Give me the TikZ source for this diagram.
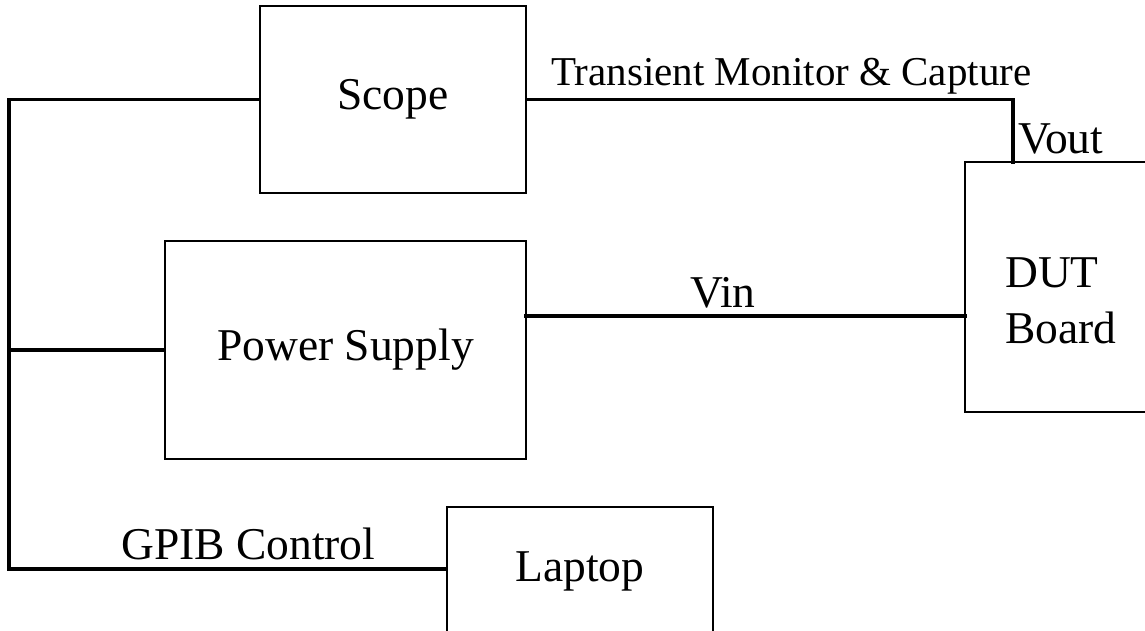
\documentclass[tikz,border=0pt]{standalone}
\usepackage{fontspec}
\setmainfont{Liberation Serif}
\begin{document}
\begin{tikzpicture}[x=1pt,y=-1pt,
  blk/.style={draw=black,line width=2pt,rectangle,inner sep=0pt,fill=none},
  wire/.style={draw=black,line width=3.2pt,line cap=rect},
  big/.style={inner sep=0pt,font=\fontsize{45.5}{56}\selectfont},
  small/.style={inner sep=0pt,font=\fontsize{41}{50}\selectfont}]
\useasboundingbox (0,0) rectangle (1145,630);
\fill[white] (0,0) rectangle (1145,630);
\begin{scope}
\clip (0,0) rectangle (1145,630);
% boxes
\node[blk,minimum width=266pt,minimum height=187pt,big] (scope) at (393,99.5) {Scope};
\node[blk,minimum width=361pt,minimum height=218pt,big] (ps) at (345.5,350) {Power Supply};
\node[blk,minimum width=215pt,minimum height=250pt] (dut) at (1072.5,287) {};
\node[blk,minimum width=266pt,minimum height=129pt,big] (laptop) at (580,571.5) {Laptop};
% labels
\node[big,anchor=base west] (dutlbl) at (1005,287) {DUT};
\node[big,anchor=base west] (boardlbl) at (1005,343) {Board};
\node[small,anchor=base west] (tmc) at (551,85) {Transient Monitor \& Capture};
\node[big,anchor=base west] (vout) at (1018,153) {Vout};
\node[big,anchor=base west] (vin) at (690,307) {Vin};
\node[big,anchor=base west] (gpib) at (121,559) {GPIB Control};
% coordinates
\coordinate (bustop) at (9,99.5);
\coordinate (busbot) at (9,569);
\coordinate (buspsu) at (9,350);
\coordinate (voutpt) at (1013,162);
\coordinate (vinL) at (526,316);
\coordinate (vinR) at (965,316);
% wires
\draw[wire] (scope.west) -- (bustop) -- (busbot) -- (laptop.west |- busbot);
\draw[wire] (buspsu) -- (ps.west);
\draw[wire] (scope.east) -| (voutpt);
\draw[wire] (vinL) -- (vinR);
\end{scope}
\end{tikzpicture}
\end{document}
